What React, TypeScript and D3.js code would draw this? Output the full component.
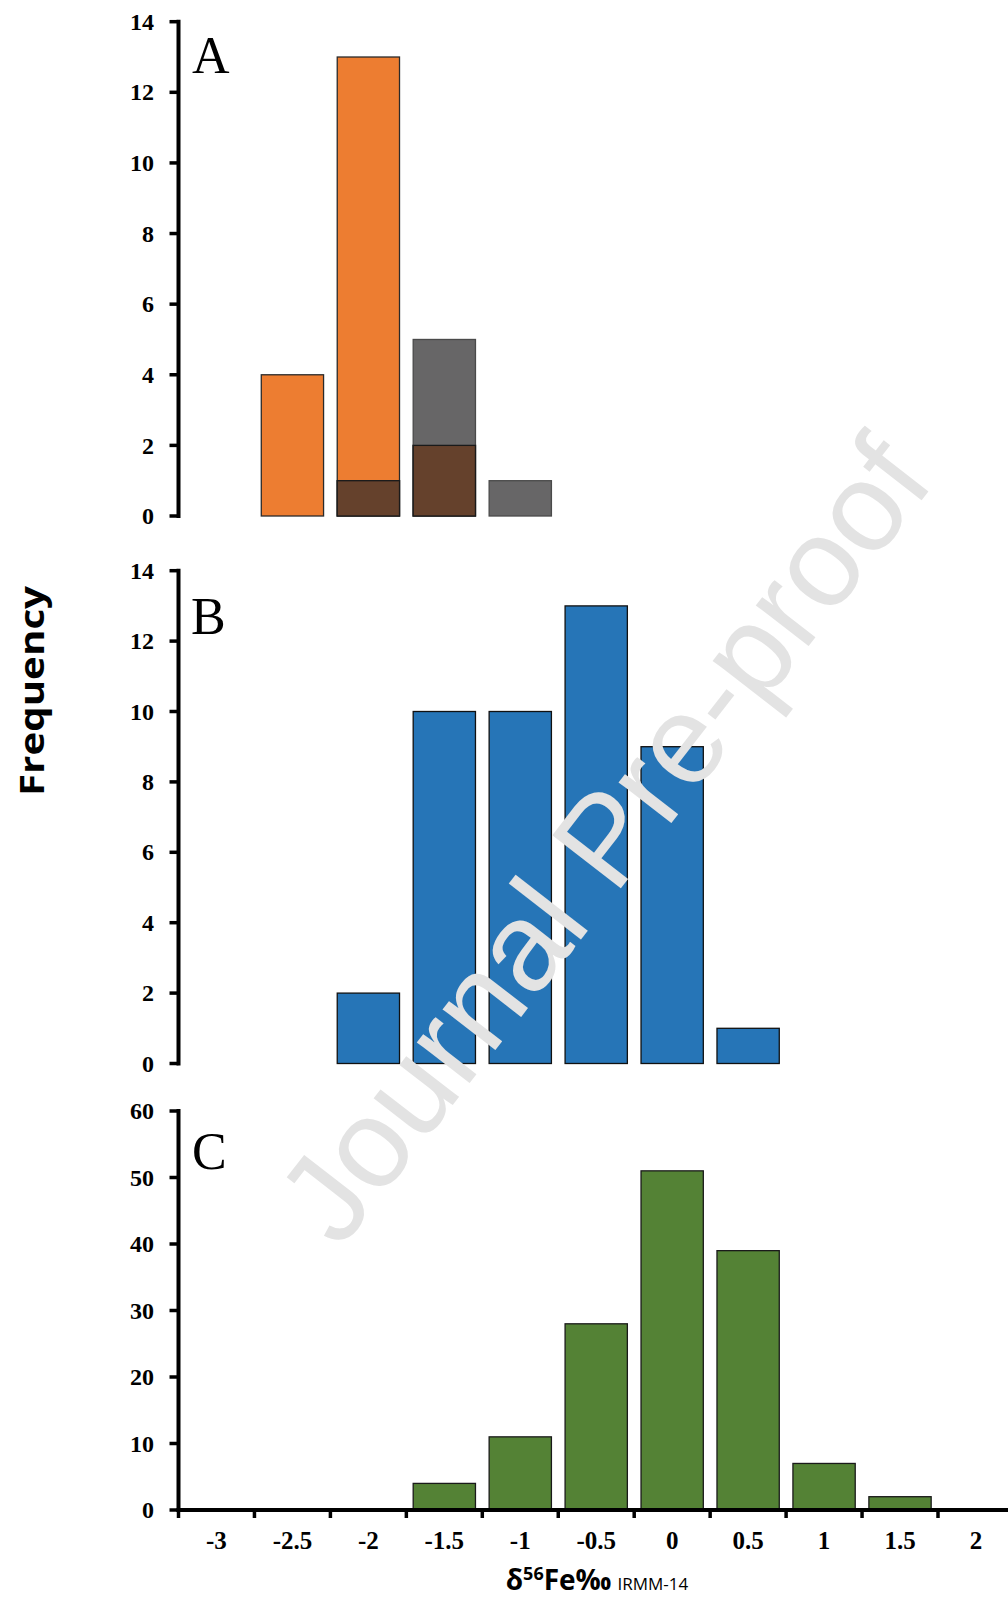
import { scaleBand, scaleLinear, range } from "d3";

// histogram bins (δ56Fe, ‰)
const categories = ["-3", "-2.5", "-2", "-1.5", "-1", "-0.5", "0", "0.5", "1", "1.5", "2"];

// panel A: two overlapping series
const panelAOrange = [0, 4, 13, 2, 0, 0, 0, 0, 0, 0, 0];
const panelAGray = [0, 0, 1, 5, 1, 0, 0, 0, 0, 0, 0];
// panel B
const panelB = [0, 0, 2, 10, 10, 13, 9, 1, 0, 0, 0];
// panel C
const panelC = [0, 0, 0, 4, 11, 28, 51, 39, 7, 2, 0];

const ticksAB = [0, 2, 4, 6, 8, 10, 12, 14];
const ticksC = [0, 10, 20, 30, 40, 50, 60];

const W = 1008;
const H = 1604;
const axisX = 178.5;
const step = 75.95;

const serif = "'Liberation Serif', 'Times New Roman', serif";
const sans = "'Open Sans', 'Liberation Sans', Arial, sans-serif";

const xCell = scaleBand<string>()
  .domain(categories)
  .range([axisX, axisX + step * categories.length])
  .padding(0);

const xBar = scaleBand<string>()
  .domain(categories)
  .range([axisX, axisX + step * categories.length])
  .paddingInner(0.18)
  .paddingOuter(0.09);

function YAxis({ y, ticks }: { y: any; ticks: number[] }) {
  const [top, bottom] = [y(ticks[ticks.length - 1]), y(ticks[0])];
  return (
    <g>
      <line x1={axisX} x2={axisX} y1={top - 2} y2={bottom + 2} stroke="#000" strokeWidth={4} />
      {ticks.map((t) => (
        <g key={t}>
          <line x1={axisX - 9} x2={axisX} y1={y(t)} y2={y(t)} stroke="#000" strokeWidth={3.5} />
          <text
            x={154}
            y={y(t)}
            dy="0.34em"
            textAnchor="end"
            fontFamily={serif}
            fontWeight="bold"
            fontSize={24}
          >
            {t}
          </text>
        </g>
      ))}
    </g>
  );
}

function Bars({ values, y, fill, stroke }: { values: number[]; y: any; fill: string; stroke: string }) {
  return (
    <g>
      {values.map((v, i) =>
        v > 0 ? (
          <rect
            key={i}
            x={xBar(categories[i])}
            width={xBar.bandwidth()}
            y={y(v)}
            height={y(0) - y(v)}
            fill={fill}
            stroke={stroke}
            strokeWidth={1.3}
          />
        ) : null
      )}
    </g>
  );
}

function PanelLabel({ x, y, text }: { x: number; y: number; text: string }) {
  return (
    <text x={x} y={y} fontFamily={serif} fontSize={52}>
      {text}
    </text>
  );
}

export default function App() {
  const yA = scaleLinear().domain([0, 14]).range([516, 21.7]);
  const yB = scaleLinear().domain([0, 14]).range([1063.5, 570.7]);
  const yC = scaleLinear().domain([0, 60]).range([1510, 1111]);

  const overlapA = panelAOrange.map((v, i) => Math.min(v, panelAGray[i]));

  const boundaries = range(categories.length + 1).map((i) =>
    i < categories.length ? xCell(categories[i])! : xCell(categories[i - 1])! + step
  );

  return (
    <svg
      width={W}
      height={H}
      viewBox={`0 0 ${W} ${H}`}
      style={{ position: "absolute", left: 0, top: 0, background: "#fff" }}
    >
      <rect width={W} height={H} fill="#fff" />

      {/* Panel A */}
      <Bars values={panelAOrange} y={yA} fill="#ED7D31" stroke="#2a2a2a" />
      <Bars values={panelAGray} y={yA} fill="#676667" stroke="#4a4a4a" />
      <Bars values={overlapA} y={yA} fill="#65412C" stroke="#1a1a1a" />
      <YAxis y={yA} ticks={ticksAB} />
      <PanelLabel x={192} y={73} text="A" />

      {/* Panel B */}
      <Bars values={panelB} y={yB} fill="#2675B7" stroke="#111" />
      <YAxis y={yB} ticks={ticksAB} />
      <PanelLabel x={191} y={634} text="B" />

      {/* Panel C */}
      <Bars values={panelC} y={yC} fill="#548235" stroke="#1a1a1a" />
      <YAxis y={yC} ticks={ticksC} />
      <line x1={axisX - 2} x2={W} y1={yC(0)} y2={yC(0)} stroke="#000" strokeWidth={4} />
      {boundaries.map((bx, i) => (
        <line key={i} x1={bx} x2={bx} y1={yC(0)} y2={yC(0) + 8} stroke="#000" strokeWidth={3.5} />
      ))}
      {categories.map((c) => (
        <text
          key={c}
          x={xCell(c)! + step / 2}
          y={1549}
          textAnchor="middle"
          fontFamily={serif}
          fontWeight="bold"
          fontSize={25}
        >
          {c}
        </text>
      ))}
      <PanelLabel x={192} y={1169} text="C" />

      {/* axis titles */}
      <text
        transform="translate(44,691) rotate(-90)"
        textAnchor="middle"
        fontFamily={sans}
        fontWeight="bold"
        fontSize={34}
        textLength={210}
        lengthAdjust="spacingAndGlyphs"
      >
        Frequency
      </text>
      <text x={597} y={1590} textAnchor="middle" fontFamily={sans}>
        <tspan fontWeight="bold" fontSize={28}>δ</tspan>
        <tspan fontWeight="bold" fontSize={18} dy={-10}>56</tspan>
        <tspan fontWeight="bold" fontSize={28} dy={10}>Fe‰</tspan>
        <tspan fontSize={17} dx={6}>IRMM-14</tspan>
      </text>

      {/* watermark */}
      <text
        transform="translate(638,866) rotate(-52.2)"
        textAnchor="middle"
        fontFamily="'Liberation Sans', Arial, sans-serif"
        fontSize={126}
        fill="#e3e3e3"
      >
        Journal Pre-proof
      </text>
    </svg>
  );
}
